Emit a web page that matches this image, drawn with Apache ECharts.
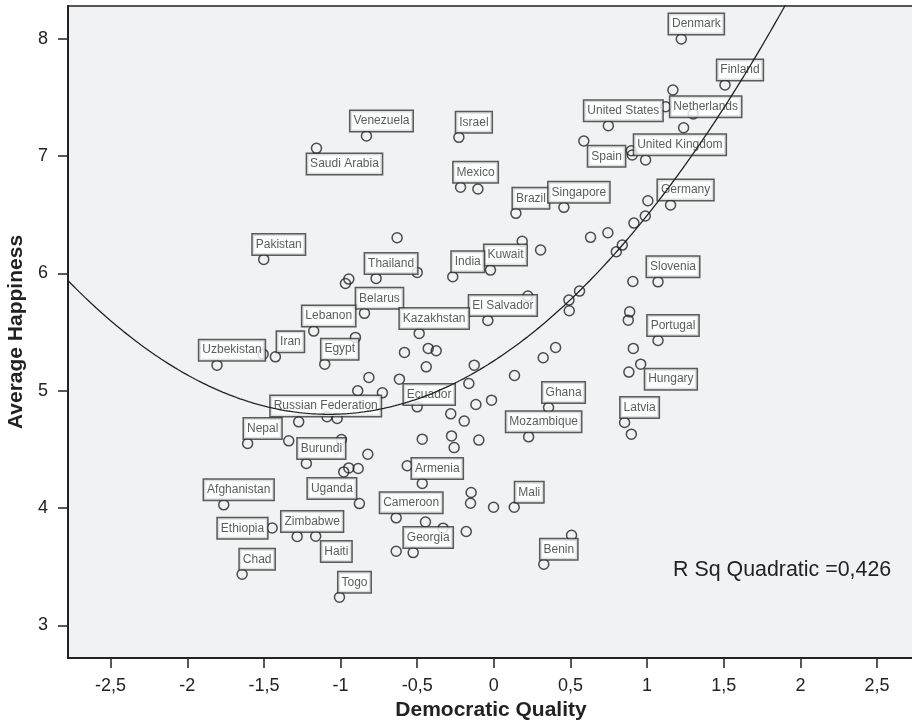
<!DOCTYPE html>
<html>
<head>
<meta charset="utf-8">
<title>Democratic Quality vs Average Happiness</title>
<script src="https://cdn.jsdelivr.net/npm/echarts@6/dist/echarts.min.js"></script>
<style>
  html, body { margin: 0; padding: 0; background: #ffffff; }
  #chart { width: 912px; height: 720px; }
</style>
</head>
<body>
<div id="chart"></div>
<script>
// Country labels ('' = unlabeled point)
const countries = [
  'Denmark', 'Finland', '', 'Netherlands', '', '', 'United States', '', '', 'Spain',
  'United Kingdom', 'Israel', 'Venezuela', 'Saudi Arabia', 'Mexico', '', 'Germany', '', '', '',
  'Brazil', 'Singapore', '', '', '', '', '', '', 'Kuwait', 'India',
  '', 'Pakistan', 'Thailand', '', '', '', 'Slovenia', '', '', '',
  '', '', 'El Salvador', '', '', 'Portugal', '', 'Hungary', '', 'Belarus',
  'Lebanon', 'Kazakhstan', '', 'Iran', 'Uzbekistan', '', 'Egypt', '', '', '',
  '', '', '', '', '', '', '', '', '', '',
  'Ecuador', '', '', '', '', 'Ghana', 'Mozambique', 'Latvia', '', '',
  '', '', 'Russian Federation', '', '', 'Nepal', '', '', '', 'Burundi',
  '', '', '', '', '', 'Armenia', 'Afghanistan', 'Uganda', '', '',
  '', 'Mali', 'Cameroon', '', 'Ethiopia', 'Zimbabwe', 'Haiti', '', '', '',
  'Georgia', 'Chad', 'Togo', '', 'Benin'
];

// Democratic Quality (x)
const democraticQuality = [
  1.223, 1.508, 1.168, 1.121, 1.301, 1.238, 0.747, 0.587, 0.897, 0.903,
  0.990, -0.228, -0.831, -1.157, -0.217, -0.104, 1.153, 1.005, 0.988, 0.914,
  0.144, 0.457, 0.744, 0.631, 0.838, 0.799, 0.185, 0.305, -0.022, -0.268,
  -0.631, -1.501, -0.768, -0.500, -0.946, -0.968, 1.071, 0.907, 0.559, 0.222,
  0.490, 0.492, -0.039, 0.886, 0.877, 1.071, 0.910, 0.958, 0.881, -0.844,
  -1.175, -0.487, -0.903, -1.425, -1.806, -1.505, -1.103, -0.583, -0.428, -0.376,
  -0.441, 0.403, 0.322, 0.135, -0.128, -0.163, -0.815, -0.616, -0.888, -0.727,
  -0.500, -0.015, -0.117, -0.281, -0.193, 0.357, 0.227, 0.853, 0.897, -0.276,
  -0.098, -0.259, -1.273, -1.088, -1.022, -1.606, -1.338, -0.467, -0.994, -1.223,
  -0.822, -0.946, -0.979, -0.885, -0.565, -0.467, -1.762, -0.877, -0.148, -0.152,
  -0.002, 0.133, -0.637, -0.446, -1.446, -1.283, -1.162, -0.331, -0.180, -0.637,
  -0.526, -1.642, -1.007, 0.507, 0.326
];

// Average Happiness (y)
const averageHappiness = [
  8.000, 7.608, 7.565, 7.422, 7.360, 7.243, 7.260, 7.130, 7.047, 7.010,
  6.968, 7.161, 7.172, 7.067, 6.735, 6.720, 6.584, 6.620, 6.490, 6.430,
  6.513, 6.564, 6.347, 6.308, 6.242, 6.185, 6.274, 6.200, 6.029, 5.972,
  6.305, 6.120, 5.958, 6.009, 5.952, 5.915, 5.929, 5.932, 5.850, 5.807,
  5.773, 5.682, 5.600, 5.673, 5.602, 5.429, 5.361, 5.227, 5.159, 5.660,
  5.509, 5.489, 5.455, 5.289, 5.218, 5.312, 5.227, 5.327, 5.361, 5.341,
  5.204, 5.369, 5.281, 5.130, 5.218, 5.062, 5.113, 5.099, 5.000, 4.982,
  4.863, 4.920, 4.883, 4.803, 4.741, 4.857, 4.607, 4.729, 4.630, 4.615,
  4.579, 4.515, 4.735, 4.778, 4.764, 4.550, 4.573, 4.587, 4.584, 4.380,
  4.459, 4.342, 4.308, 4.337, 4.360, 4.209, 4.027, 4.038, 4.132, 4.041,
  4.007, 4.007, 3.916, 3.881, 3.830, 3.757, 3.759, 3.828, 3.800, 3.631,
  3.620, 3.435, 3.239, 3.768, 3.520
];

// Quadratic fit line y = a + b*x + c*x^2 (coefficients a, b, c)
const quadraticFitCoefficients = [5.255, 0.847, 0.3936];
const fitText = 'R Sq Quadratic =0,426';

// Tick labels
const xTicks = [-2.5, -2, -1.5, -1, -0.5, 0, 0.5, 1, 1.5, 2, 2.5];
const yTicks = [3, 4, 5, 6, 7, 8];

// Label box placement (centre offset from the point, px); default is up-right
const defaultLabelOffset = [15, -15];
const labelOffsets = {
  'Saudi Arabia': [28, 15.7],
  'Netherlands': [40, 0],
  'Spain': [-25.7, 1.3],
  'United Kingdom': [34.3, -15.3],
  'Hungary': [30.2, 15],
  'Ethiopia': [-29.7, 0.3],
  'Uganda': [-27.5, -15],
  'Haiti': [20.6, 15.2],
  'Russian Federation': [27, -15.9],
  'Ecuador': [12, -12.4]
};

const xMin = -2.778, xMax = 2.741, yMin = 2.721, yMax = 8.281;

// Sample the fit line across the x range
const [fa, fb, fc] = quadraticFitCoefficients;
const curve = [];
for (let i = 0; i <= 300; i++) {
  const x = xMin + (xMax - xMin) * i / 300;
  curve.push([x, fa + fb * x + fc * x * x]);
}

const points = countries.map((name, i) => ({
  name: name,
  value: [democraticQuality[i], averageHappiness[i]],
  label: { show: name !== '', offset: labelOffsets[name] || defaultLabelOffset }
}));

const comma = v => String(v).replace('.', ',');
const ink = '#222222';
const font = 'Liberation Sans, Arial, Helvetica, sans-serif';

const chart = echarts.init(document.getElementById('chart'), null, { renderer: 'canvas' });
chart.setOption({
  animation: false,
  backgroundColor: '#ffffff',
  grid: {
    left: 68, right: -2, top: 6, bottom: 62,
    outerBoundsMode: 'none', containLabel: false,
    show: true, backgroundColor: '#f1f2f4',
    borderColor: ink, borderWidth: 1.5
  },
  xAxis: {
    type: 'value', min: xMin, max: xMax,
    name: 'Democratic Quality', nameLocation: 'middle', nameGap: 41,
    nameTextStyle: { fontFamily: font, fontSize: 21, fontWeight: 'bold', color: ink },
    axisLine: { show: true, onZero: false, lineStyle: { color: ink, width: 2 } },
    axisTick: { show: true, length: 10, customValues: xTicks, lineStyle: { color: ink, width: 1.5 } },
    axisLabel: { customValues: xTicks, formatter: comma, margin: 19, fontFamily: font, fontSize: 18, color: ink },
    splitLine: { show: false }
  },
  yAxis: {
    type: 'value', min: yMin, max: yMax,
    name: 'Average Happiness', nameLocation: 'middle', nameGap: 40, nameRotate: 90,
    nameTextStyle: { fontFamily: font, fontSize: 21, fontWeight: 'bold', color: ink },
    axisLine: { show: true, onZero: false, lineStyle: { color: ink, width: 2 } },
    axisTick: { show: true, length: 10, customValues: yTicks, lineStyle: { color: ink, width: 1.5 } },
    axisLabel: { customValues: yTicks, formatter: comma, margin: 20, fontFamily: font, fontSize: 18, color: ink },
    splitLine: { show: false }
  },
  graphic: [{
    type: 'text', left: 673, top: 560,
    style: { text: fitText, font: '21.4px ' + font, fill: ink }
  }],
  series: [
    {
      type: 'scatter', z: 2,
      data: points,
      symbol: 'circle', symbolSize: 10,
      itemStyle: { color: 'rgba(0,0,0,0)', borderColor: ink, borderWidth: 1.5 },
      label: {
        position: 'inside', align: 'center', verticalAlign: 'middle',
        formatter: '{b}', fontFamily: font, fontSize: 12, color: '#333333',
        backgroundColor: '#ffffff', borderColor: '#333333', borderWidth: 1.5,
        padding: [3, 3, 3, 3], lineHeight: 14
      },
      emphasis: { disabled: true }
    },
    {
      type: 'line', z: 3,
      data: curve, showSymbol: false, symbol: 'none', smooth: false, clip: true,
      lineStyle: { color: ink, width: 1.3 },
      emphasis: { disabled: true }
    }
  ]
});
</script>
</body>
</html>
